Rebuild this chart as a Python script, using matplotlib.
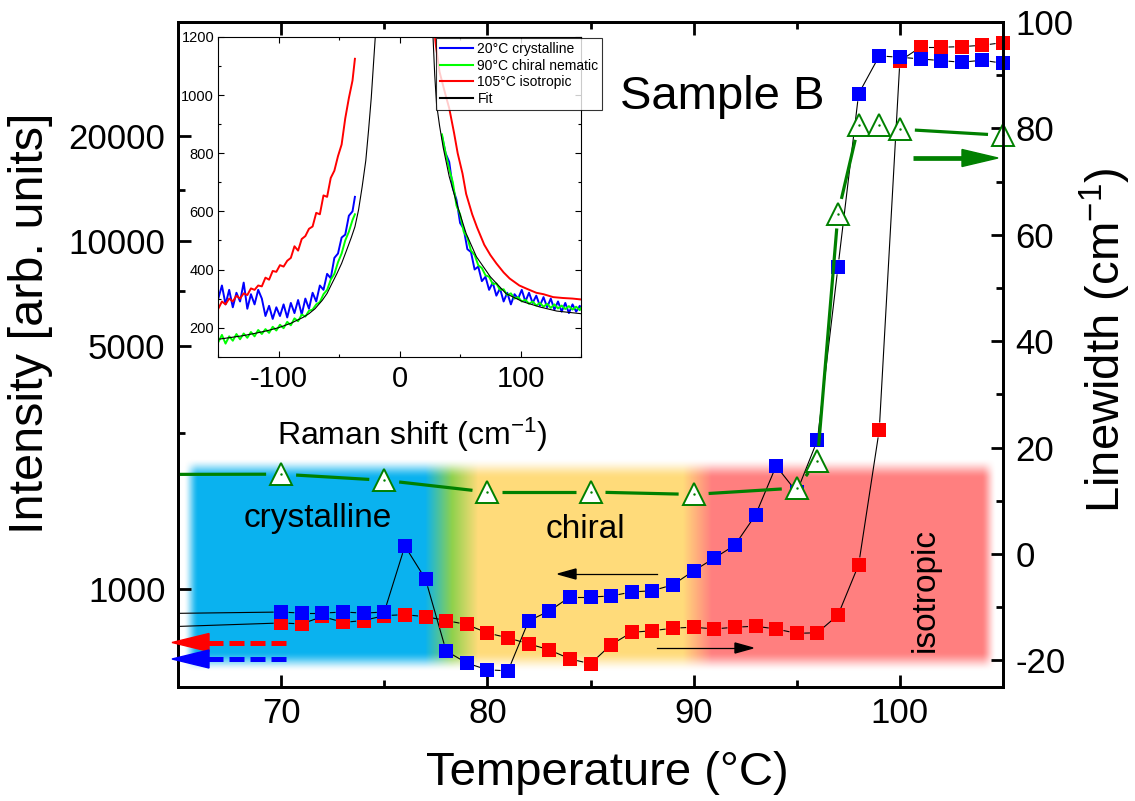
import numpy as np
import matplotlib
matplotlib.use("Agg")
import matplotlib.pyplot as plt
from matplotlib.ticker import FixedLocator, NullFormatter, MultipleLocator
from matplotlib.patches import Polygon

plt.rcParams['font.family'] = ['Liberation Sans', 'DejaVu Sans']
plt.rcParams['mathtext.fontset'] = 'custom'
plt.rcParams['mathtext.rm'] = 'Liberation Sans'
plt.rcParams['mathtext.it'] = 'Liberation Sans:italic'
plt.rcParams['axes.unicode_minus'] = False

# ---- main panel data (temperature scan)
temps = [55, 70, 71, 72, 73, 74, 75, 76, 77, 78, 79, 80, 81, 82, 83, 84, 85, 86, 87,
         88, 89, 90, 91, 92, 93, 94, 95, 96, 97, 98, 99, 100, 101, 102, 103, 104, 105]
blue_int = [838, 860, 854, 854, 860, 854, 860, 1330, 1069, 665, 614, 587, 583, 811, 866,
            950, 950, 956, 982, 990, 1030, 1129, 1228, 1338, 1632, 2258, 1900, 2676, 8417,
            26410, 33930, 33640, 33270, 32890, 32550, 32980, 32330]
red_int = [747, 800, 795, 835, 803, 813, 840, 845, 834, 813, 792, 749, 725, 697, 670,
           631, 611, 693, 752, 760, 773, 778, 769, 778, 783, 769, 747, 750, 843,
           1175, 2864, 32840, 35940, 35940, 36080, 36410, 37050]

tri_temps = [55, 70, 75, 80, 85, 90, 95, 96, 97, 98, 99, 100, 105]
linewidths = [14.9, 15.0, 13.85, 11.65, 11.65, 11.2, 12.4, 17.5, 64.0, 80.6, 80.6, 79.85, 78.7]

# ---- inset spectra
left_shift = [-150, -147, -144, -141, -138, -135, -132, -129, -126, -123, -120, -117, -114,
              -111, -108, -105, -102, -99, -96, -93, -90, -87, -84, -81, -78, -75, -72,
              -69, -66, -63, -60, -57, -54, -51, -48, -45, -42, -39, -37]
right_shift = [35, 38, 41, 44, 47, 50, 53, 56, 59, 62, 65, 68, 71, 74, 77, 80, 83, 86, 89,
               92, 95, 98, 101, 104, 107, 110, 113, 116, 119, 122, 125, 128, 131, 134, 137,
               140, 143, 146, 149, 150]
blue_left = [300, 345, 280, 330, 270, 320, 290, 355, 265, 315, 280, 330, 300, 240, 275, 230,
             270, 240, 280, 235, 285, 250, 295, 245, 300, 265, 320, 290, 345, 330, 385, 370,
             440, 455, 510, 520, 585, 600, 650]
blue_right = [860, 800, 770, 680, 640, 560, 540, 470, 460, 400, 410, 360, 375, 330, 355, 310,
              335, 290, 320, 280, 315, 300, 330, 290, 320, 285, 310, 275, 305, 270, 300, 262,
              290, 255, 285, 250, 280, 255, 275, 265]
green_left = [150, 175, 145, 170, 155, 178, 160, 180, 165, 185, 170, 192, 178, 195, 182, 203,
              190, 210, 198, 220, 208, 232, 222, 245, 238, 258, 262, 280, 288, 315, 330, 365,
              385, 425, 455, 500, 530, 570, 590]
green_right = [865, 800, 745, 700, 620, 590, 530, 510, 465, 450, 415, 405, 380, 375, 350, 352,
               330, 332, 312, 318, 300, 305, 290, 296, 282, 290, 276, 285, 272, 282, 268, 280,
               266, 276, 264, 274, 262, 272, 260, 268]
red_left = [265, 290, 280, 300, 290, 310, 300, 318, 312, 335, 330, 345, 342, 372, 365, 395,
            392, 415, 410, 430, 440, 480, 465, 505, 515, 540, 548, 595, 590, 655, 650, 715,
            740, 790, 830, 920, 990, 1050, 1125]
red_right_shift = [29, 30, 33, 38, 41, 45, 48, 52, 55, 60, 64, 70, 75, 80, 86, 91, 99, 105,
                   113, 119, 127, 135, 143, 150]
red_right = [1210, 1170, 1080, 1000, 955, 870, 800, 730, 660, 590, 545, 485, 450, 421, 390,
             369, 345, 334, 320, 315, 305, 302, 300, 297]
fit_shift = [-150, -140, -130, -120, -110, -100, -90, -80, -75, -70, -64, -60, -56, -52, -48,
             -44, -40, -37, -34, -31, -28, -25.7, -23.5, -21.6, -20, -18.5,
             26.5, 27.5, 29, 30.5, 33, 36, 41, 48, 55, 63.5, 75, 88, 102, 116, 130, 150]
fit_int = [160, 166, 172, 180, 189, 200, 215, 235, 248, 265, 294, 318, 352, 385, 421,
           465, 510, 547, 605, 685, 775, 880, 990, 1110, 1210, 1320,
           1320, 1210, 1070, 970, 895, 820, 720, 616, 524, 444, 375, 317, 289, 271, 257, 248]

BLUE, RED, GREEN, DKGREEN = '#0000FF', '#FF0000', '#00FF00', '#008000'
W, H = 1135, 801

fig = plt.figure(figsize=(W / 100, H / 100), dpi=100)


def frac(x0, y0, x1, y1):
    # pixel box (top-left origin) -> figure fraction rect
    return [x0 / W, 1 - y1 / H, (x1 - x0) / W, (y1 - y0) / H]


# background: blurred phase bands
bg = fig.add_axes([0, 0, 1, 1], zorder=0)
bx = np.linspace(180, 1000, 821)
by = np.linspace(455, 680, 226)
cols = np.array([[0.04, 0.70, 0.94], [0.04, 0.70, 0.94], [0.56, 0.82, 0.30],
                 [1.0, 0.86, 0.48], [1.0, 0.86, 0.48], [1.0, 0.5, 0.5], [1.0, 0.5, 0.5]])
stops = [180, 425, 452, 478, 683, 712, 1000]


def ramp(v, a, b):
    t = np.clip((v - a) / (b - a), 0, 1)
    return t * t * (3 - 2 * t)


img = np.zeros((len(by), len(bx), 4))
for k in range(3):
    img[..., k] = np.interp(bx, stops, cols[:, k])[None, :]
img[..., 3] = (ramp(by, 458, 478) * (1 - ramp(by, 652, 672)))[:, None] * \
              (ramp(bx, 183, 198) * (1 - ramp(bx, 982, 997)))[None, :]
bg.imshow(img, extent=(180, 1000, 680, 455), origin='upper', aspect='auto',
          interpolation='bilinear')
bg.set_xlim(0, W)
bg.set_ylim(H, 0)
bg.axis('off')

# main axes
ax = fig.add_axes(frac(178, 22, 1003, 687), zorder=1)
ax.patch.set_visible(False)
ax.set_xlim(65, 105)
ax.set_yscale('log')
ax.set_ylim(524, 42460)
ax2 = ax.twinx()
ax2.set_zorder(2)
ax2.set_ylim(-25, 100)

for a in (ax, ax2):
    for s in a.spines.values():
        s.set_linewidth(2)


def gapped(axis, xs, ys, gap, **kw):
    # Origin style: line segments stop short of the symbols
    pts = axis.transData.transform(np.column_stack([xs, ys]))
    inv = axis.transData.inverted()
    for p0, p1 in zip(pts[:-1], pts[1:]):
        d = p1 - p0
        L = np.hypot(*d)
        if L <= 2 * gap:
            continue
        seg = inv.transform([p0 + d * gap / L, p1 - d * gap / L])
        axis.plot(seg[:, 0], seg[:, 1], **kw)


gapped(ax, temps, red_int, 8, color='k', lw=0.8)
gapped(ax, temps, blue_int, 8, color='k', lw=0.8)

# symbols are not clipped at the frame (points off the x range are left out)
t_arr = np.array(temps)
on = t_arr >= 65
ax.plot(t_arr[on], np.array(red_int)[on], 's', color=RED, ms=10, mew=0, clip_on=False)
ax.plot(t_arr[on], np.array(blue_int)[on], 's', color=BLUE, ms=10, mew=0, clip_on=False)

gapped(ax2, tri_temps, linewidths, 15, color=DKGREEN, lw=2.3, solid_capstyle='butt')
tt = np.array(tri_temps)
ton = tt >= 65
ax2.plot(tt[ton], np.array(linewidths)[ton], '^', ms=16, mfc='white', mec=DKGREEN, mew=1.4,
         clip_on=False)
ax2.plot(tt[ton], np.array(linewidths)[ton], '.', ms=1.5, color=DKGREEN, clip_on=False)

ax.xaxis.set_major_locator(MultipleLocator(10))
ax.xaxis.set_minor_locator(MultipleLocator(5))
ax.set_yticks([1000, 5000, 10000, 20000])
ax.set_yticklabels(['1000', '5000', '10000', '20000'])
ax.yaxis.set_minor_locator(FixedLocator([2800, 7200, 14000]))
ax.yaxis.set_minor_formatter(NullFormatter())
ax.tick_params(which='both', direction='in', top=True, right=False, width=2, labelsize=25)
ax.tick_params(which='major', length=9)
ax.tick_params(which='minor', length=5)
ax.tick_params(axis='x', pad=7)
ax.tick_params(axis='y', pad=9)

ax2.yaxis.set_major_locator(MultipleLocator(20))
ax2.yaxis.set_minor_locator(MultipleLocator(10))
ax2.tick_params(which='both', direction='in', width=2, labelsize=25, pad=9)
ax2.tick_params(which='major', length=9)
ax2.tick_params(which='minor', length=5)

# inset
ins = fig.add_axes(frac(218.3, 37, 581, 356.7), zorder=3)
ins.plot(left_shift, blue_left, color=BLUE, lw=1.4, label='20°C crystalline')
ins.plot(right_shift, blue_right, color=BLUE, lw=1.4)
ins.plot(left_shift, green_left, color=GREEN, lw=1.4, label='90°C chiral nematic')
ins.plot(right_shift, green_right, color=GREEN, lw=1.4)
ins.plot(left_shift, red_left, color=RED, lw=1.4, label='105°C isotropic')
ins.plot(red_right_shift, red_right, color=RED, lw=1.4)
ins.plot(fit_shift, fit_int, color='k', lw=0.8, label='Fit')
ins.set_xlim(-150, 150)
ins.set_ylim(100, 1200)
ins.xaxis.set_major_locator(FixedLocator([-100, 0, 100]))
ins.xaxis.set_minor_locator(FixedLocator([-150, -50, 50, 150]))
ins.yaxis.set_major_locator(MultipleLocator(200))
ins.yaxis.set_minor_locator(MultipleLocator(100))
ins.tick_params(which='both', direction='in', top=True, right=True, width=0.8)
ins.tick_params(which='major', length=4)
ins.tick_params(which='minor', length=2.5)
ins.tick_params(axis='x', labelsize=21, pad=6)
ins.tick_params(axis='y', labelsize=10.5, pad=3)
for s in ins.spines.values():
    s.set_linewidth(0.8)
leg = ins.legend(loc='upper right', bbox_to_anchor=(1.058, 0.996), fontsize=10,
                 frameon=True, fancybox=False, borderpad=0.25, labelspacing=0.2,
                 handlelength=2.4, handletextpad=0.3, borderaxespad=0)
leg.get_frame().set_edgecolor('k')
leg.get_frame().set_linewidth(0.8)
for ln in leg.get_lines():
    ln.set_linewidth(1.5)

# overlay: labels, annotations, arrows (pixel coordinates)
ov = fig.add_axes([0, 0, 1, 1], zorder=4)
ov.set_xlim(0, W)
ov.set_ylim(H, 0)
ov.axis('off')
ov.patch.set_visible(False)

ov.text(607, 773, 'Temperature (°C)', ha='center', va='center', fontsize=34)
ov.text(31, 323, 'Intensity [arb. units]', ha='center', va='center', rotation=90, fontsize=35)
ov.text(1105, 340, 'Linewidth (cm$^{-1}$)', ha='center', va='center', rotation=90, fontsize=34)
ov.text(412, 435, 'Raman shift (cm$^{-1}$)', ha='center', va='center', fontsize=23)
ov.text(722, 97, 'Sample B', ha='center', va='center', fontsize=34)
ov.text(318, 518, 'crystalline', ha='center', va='center', fontsize=24)
ov.text(585, 530, 'chiral', ha='center', va='center', fontsize=24)
ov.text(925, 590, 'isotropic', ha='center', va='center', rotation=90, fontsize=24)

# heating / cooling arrows
ov.plot([657, 575], [574, 574], color='k', lw=0.9)
ov.add_patch(Polygon([(558, 574), (576, 569), (576, 579)], closed=True, color='k'))
ov.plot([657, 736], [648, 648], color='k', lw=0.9)
ov.add_patch(Polygon([(753, 648), (735, 643), (735, 653)], closed=True, color='k'))

# axis-assignment arrows
for yy, c in ((642.5, RED), (659, BLUE)):
    ov.plot([208, 287], [yy, yy], color=c, lw=3.6, linestyle=(0, (3.0, 1.2)),
            solid_capstyle='butt', dash_capstyle='butt')
    ov.add_patch(Polygon([(172, yy), (209, yy - 9), (209, yy + 9)], closed=True, color=c))
ov.plot([913, 964], [158, 158], color=DKGREEN, lw=3.4, solid_capstyle='butt')
ov.add_patch(Polygon([(998, 158), (962, 149.5), (962, 166.5)], closed=True, color=DKGREEN))

fig.savefig('out.png', dpi=100)
